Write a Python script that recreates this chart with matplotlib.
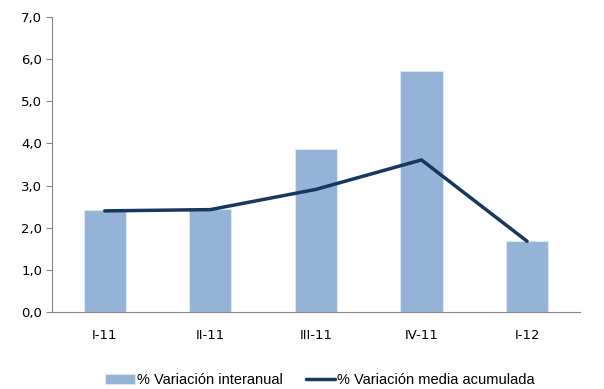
import matplotlib
matplotlib.use("Agg")
import matplotlib.pyplot as plt
from matplotlib.ticker import FuncFormatter

categories = ["I-11", "II-11", "III-11", "IV-11", "I-12"]
interanual = [2.41, 2.45, 3.86, 5.72, 1.68]
media_acumulada = [2.40, 2.43, 2.91, 3.61, 1.68]

fig = plt.figure(figsize=(6.04, 3.89), dpi=100)
ax = fig.add_axes([0.086, 0.198, 0.874, 0.758])

x = list(range(len(categories)))
bars = ax.bar(x, interanual, width=0.4, color="#95B3D7", edgecolor="#DCE6F2", linewidth=0.8,
              label="% Variación interanual", zorder=2)
line, = ax.plot(x, media_acumulada, color="#17375E", linewidth=2.5, solid_capstyle="round",
                label="% Variación media acumulada", zorder=3)

ax.set_xlim(-0.5, len(categories) - 0.5)
ax.set_ylim(0, 7)
ax.set_yticks([0, 1, 2, 3, 4, 5, 6, 7])
ax.yaxis.set_major_formatter(FuncFormatter(lambda v, p: f"{v:.1f}".replace(".", ",")))
ax.set_xticks(x)
ax.set_xticklabels(categories)
ax.tick_params(axis="x", length=0, pad=12, labelsize=9.5, colors="#000000")
ax.tick_params(axis="y", length=4, width=0.8, color="#868686", labelsize=9.5, pad=3)
for s in ["top", "right"]:
    ax.spines[s].set_visible(False)
ax.spines["left"].set_color("#868686")
ax.spines["bottom"].set_color("#868686")
ax.spines["left"].set_linewidth(0.8)
ax.spines["bottom"].set_linewidth(0.8)

fig.legend([bars, line], ["% Variación interanual", "% Variación media acumulada"],
           loc="center", bbox_to_anchor=(0.530, 0.022), ncol=2, frameon=False,
           prop={"family": "Liberation Sans", "size": 10.5},
           handlelength=2.0, handletextpad=0.15, columnspacing=1.6)

fig.savefig("out.png", dpi=100)
